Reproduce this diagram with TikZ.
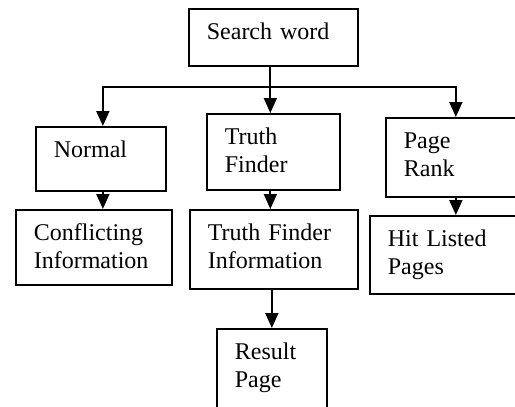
\documentclass[tikz,border=0pt]{standalone}
\usepackage{fontspec}
\setmainfont{Liberation Serif}
\usepackage{tikz}
\usetikzlibrary{arrows.meta,positioning}

\begin{document}
\begin{tikzpicture}[
    x=1pt, y=-1pt,
    box/.style={draw, line width=1.7pt, align=left, anchor=north west, inner xsep=18pt, inner ysep=15pt, text height=16pt, font=\fontsize{24}{27.6}\selectfont},
    arrow/.style={-{Triangle[length=15pt, width=13pt]}, line width=1.9pt}
  ]
    \useasboundingbox (0,0) rectangle (515,407);
    \clip (0,0) rectangle (515,407);
    \node[box, text width=133pt, text depth=11pt] (search) at (188,8) {Search word};
    \node[box, text width=94pt, text depth=18pt] (normal) at (35,126) {Normal};
    \node[box, text width=97pt, text depth=30pt] (truth) at (206,113) {Truth\\Finder};
    \node[box, text width=104pt, text depth=33pt] (pagerank) at (385,117) {Page\\Rank};
    \node[box, text width=120pt, text depth=29pt] (conf) at (15,209) {Conflicting\\Information};
    \node[box, text width=132pt, text depth=33pt] (tfinfo) at (189,209) {Truth Finder\\Information};
    \node[box, text width=132pt, text depth=32pt] (hit) at (369,215) {Hit Listed\\Pages};
    \node[box, text width=74pt, text depth=60pt] (result) at (216,328) {Result\\Page};
    \coordinate (bus) at (0,87);
    \draw[arrow] ([xshift=-3pt]search.south) -- ([xshift=-3pt]truth.north);
    \draw[arrow] ([xshift=-3pt]search.south |- bus) -| ([xshift=2pt]normal.north);
    \draw[arrow] ([xshift=-3pt]search.south |- bus) -| (pagerank.north);
    \draw[arrow] ([xshift=2pt]normal.south) -- ([xshift=2pt]normal.south |- conf.north);
    \draw[arrow] ([xshift=-3pt]truth.south) -- ([xshift=-3pt]truth.south |- tfinfo.north);
    \draw[arrow] (result.north |- tfinfo.south) -- (result.north);
    \draw[arrow] (pagerank.south) -- (pagerank.south |- hit.north);
  \end{tikzpicture}
\end{document}
